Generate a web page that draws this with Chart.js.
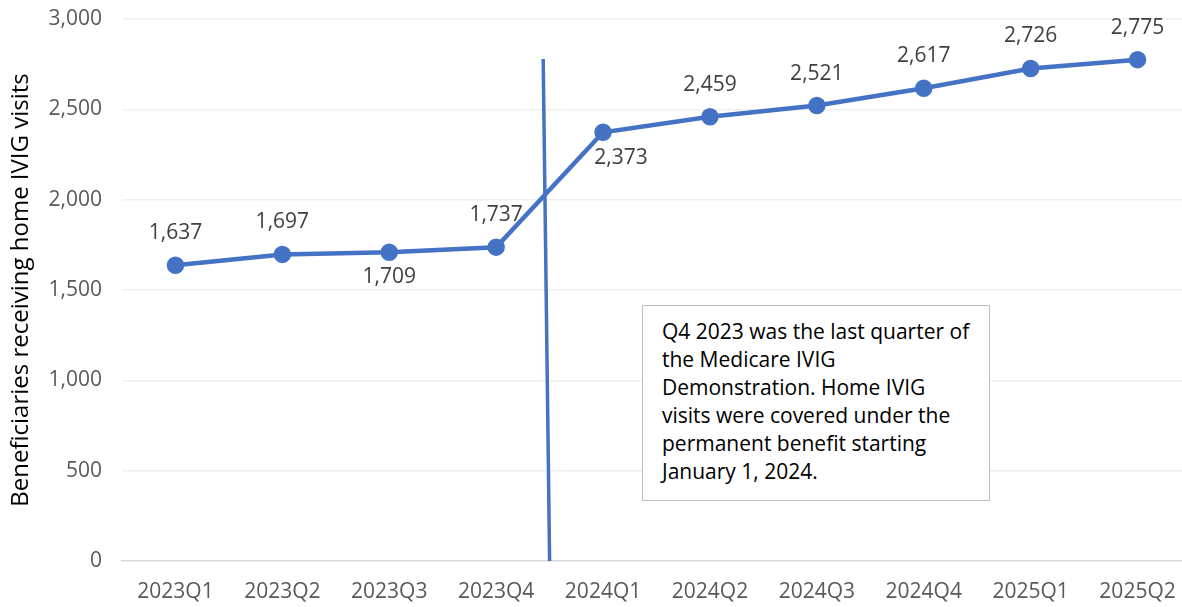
<!DOCTYPE html>
<html>
<head>
<meta charset="utf-8">
<script src="https://cdn.jsdelivr.net/npm/chart.js@4"></script>
<style>
  html, body { margin: 0; padding: 0; overflow: hidden; background: #fff; }
  #wrap { position: relative; width: 1202px; height: 607px; }
  #note {
    position: absolute; left: 642px; top: 305px; width: 348px; height: 196px;
    border: 1.5px solid #bfbfbf; box-sizing: border-box; background: #fff;
    font-family: "Open Sans", sans-serif; font-size: 21px; line-height: 28px;
    color: #000; padding: 11px 10px 0 19px;
  }
</style>
</head>
<body>
<div id="wrap">
  <canvas id="chart" width="1202" height="607"></canvas>
  <div id="note">Q4 2023 was the last quarter of the Medicare IVIG Demonstration. Home IVIG visits were covered under the permanent benefit starting January 1, 2024.</div>
</div>
<script>
const quarters = ["2023Q1", "2023Q2", "2023Q3", "2023Q4", "2024Q1", "2024Q2", "2024Q3", "2024Q4", "2025Q1", "2025Q2"];
const beneficiaries = [1637, 1697, 1709, 1737, 2373, 2459, 2521, 2617, 2726, 2775];
// where each data label sits relative to its point
const labelPlace = ["above", "above", "below", "above", "belowRight", "above", "above", "above", "above", "above"];
// the slanted divider drawn between 2023Q4 and 2024Q1 (category index, value)
const dividerX = [3.44, 3.5];
const dividerY = [2779, 0];

const blue = "#4472C4";
const font = "'Open Sans', sans-serif";

const dataLabels = {
  id: "dataLabels",
  afterDatasetsDraw(chart) {
    const ctx = chart.ctx;
    const meta = chart.getDatasetMeta(0);
    ctx.save();
    ctx.font = "21px " + font;
    ctx.fillStyle = "#404040";
    ctx.textAlign = "center";
    ctx.textBaseline = "middle";
    meta.data.forEach((pt, i) => {
      const txt = beneficiaries[i].toLocaleString("en-US");
      let x = pt.x, y = pt.y;
      if (labelPlace[i] === "above") y -= 32;
      else if (labelPlace[i] === "below") y += 25;
      else { x += 18; y += 26; }
      ctx.fillText(txt, x, y);
    });
    ctx.restore();
  },
};

new Chart(document.getElementById("chart"), {
  type: "line",
  data: {
    labels: quarters,
    datasets: [
      {
        data: beneficiaries,
        borderColor: blue,
        backgroundColor: blue,
        borderWidth: 4.5,
        pointRadius: 6.5,
        pointHoverRadius: 6.5,
        tension: 0,
      },
      {
        data: dividerX.map((x, i) => ({ x, y: dividerY[i] })),
        xAxisID: "x2",
        borderColor: blue,
        borderWidth: 3.5,
        pointRadius: 0,
      },
    ],
  },
  options: {
    responsive: false,
    animation: false,
    layout: { padding: { top: 19, right: 0, bottom: 0, left: 0 } },
    plugins: { legend: { display: false }, tooltip: { enabled: false } },
    scales: {
      x: {
        offset: true,
        grid: { display: false, drawTicks: false },
        border: { color: "#d9d9d9", width: 1.5 },
        ticks: { color: "#595959", font: { family: font, size: 21 }, padding: 18, maxRotation: 0, autoSkip: false },
        afterFit(s) { s.height = 46; },
      },
      x2: {
        type: "linear",
        display: false,
        min: -0.5,
        max: 9.5,
      },
      y: {
        min: 0,
        max: 3000,
        ticks: {
          stepSize: 500,
          color: "#595959",
          font: { family: font, size: 21 },
          padding: 20,
          callback: (v) => v.toLocaleString("en-US"),
        },
        grid: { color: "#f0f0f0", lineWidth: 1.5, drawTicks: false },
        border: { display: false },
        title: {
          display: true,
          text: "Beneficiaries receiving home IVIG visits",
          color: "#000",
          font: { family: font, size: 24 },
          padding: { top: 7, bottom: 0 },
        },
        afterFit(s) {
          s.width = 122;
          s.paddingTop = 0;
          s.paddingBottom = 0;
        },
      },
    },
  },
  plugins: [dataLabels],
});
</script>
</body>
</html>
